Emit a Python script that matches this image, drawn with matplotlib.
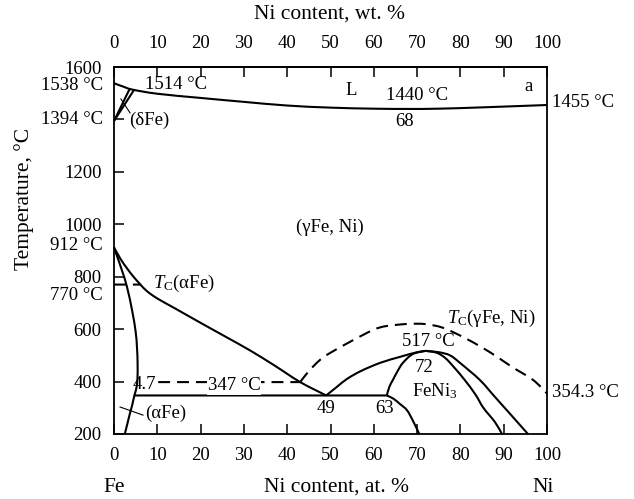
import matplotlib
matplotlib.use('Agg')
import numpy as np
import matplotlib.pyplot as plt
from matplotlib.path import Path
from matplotlib.patches import PathPatch

plt.rcParams['font.family'] = ['Liberation Serif', 'DejaVu Serif']
plt.rcParams['mathtext.fontset'] = 'custom'
plt.rcParams['mathtext.rm'] = 'Liberation Serif'
plt.rcParams['mathtext.it'] = 'Liberation Serif:italic'
plt.rcParams['lines.scale_dashes'] = False

# Fe-Ni phase diagram, x = Ni at. %, y = temperature in deg C
liquidus_x = [0, 2, 4.2, 10, 20, 30, 40, 50, 60, 68, 75, 85, 100]
liquidus_t = [1538, 1526, 1514, 1498, 1482, 1467, 1453, 1445, 1441, 1440, 1441, 1446, 1455]

delta_x = [0, 3.6]
delta_t = [1394, 1516]
delta_gamma_x = [0, 4.6]
delta_gamma_t = [1394, 1512]

alpha_x = [0, 1.8, 3, 4.2, 5, 5.3, 5.45, 5.4, 5.1, 4.7, 4.2, 3.7, 3.1, 2.5]
alpha_t = [912, 826, 761, 670, 590, 532, 470, 406, 370, 347, 310, 280, 240, 200]

gamma_x = [0, 1.5, 3, 4.5, 6, 7.6, 10, 14, 20, 26, 31.4, 37, 43, 49]
gamma_t = [912, 868, 832, 800, 772, 745, 717, 680, 624, 569, 519, 462, 398, 347]

eutectoid_x = [4.7, 63]
eutectoid_t = [347, 347]

feni3_left_x = [49, 51.5, 53.8, 57, 61.4, 66, 70, 72]
feni3_left_t = [347, 380, 410, 440, 471, 494, 512, 517]
feni3_inner_x = [63, 63.6, 64.4, 65.5, 66.7, 69, 72]
feni3_inner_t = [347, 380, 406, 440, 471, 505, 517]
feni3_low_x = [63, 64.5, 66, 67.7, 69.2, 70.5]
feni3_low_t = [347, 335, 315, 290, 245, 200]
feni3_right_x = [72, 74.5, 76.5, 78.5, 81, 83.5, 85.3, 88, 89.6]
feni3_right_t = [517, 510, 490, 455, 406, 350, 300, 245, 200]
gamma_right_x = [72, 75, 77.6, 80, 84.5, 88, 92, 95.6]
gamma_right_t = [517, 512, 500, 470, 406, 341, 267, 200]

# magnetic transitions
tc_alpha_x = [0, 6.2]
tc_alpha_t = [770, 770]
tc_two_phase_x = [10.2, 43]
tc_two_phase_t = [398, 398]
tc_gamma_x = [43, 45, 47.6, 50, 55, 60, 63, 68, 72, 76, 80.6, 85, 88.5, 92, 96.8, 100]
tc_gamma_t = [398, 440, 483, 510, 556, 598, 612, 620, 619, 605, 570, 530, 494, 455, 406, 354.3]

temp_ticks = [200, 400, 600, 800, 1000, 1200, 1400, 1600]
temp_labels = ['200', '400', '600', '800', '1000', '1200', '', '1600']
ni_ticks = [0, 10, 20, 30, 40, 50, 60, 70, 80, 90, 100]

fs = 13.5
fs_label = 15.5
lw = 1.5
dash = (0, (8.6, 5))


def smooth(xs, ts):
    # Catmull-Rom through the points, written as cubic Bezier segments
    p = np.column_stack([xs, ts]).astype(float)
    n = len(p)
    verts = [p[0]]
    codes = [Path.MOVETO]
    for i in range(n - 1):
        p0 = p[i - 1] if i > 0 else p[i]
        p3 = p[i + 2] if i + 2 < n else p[i + 1]
        c1 = p[i] + (p[i + 1] - p0) / 6
        c2 = p[i + 1] - (p3 - p[i]) / 6
        verts += [c1, c2, p[i + 1]]
        codes += [Path.CURVE4] * 3
    return Path(verts, codes)


def curve(ax, xs, ts, ls='-'):
    ax.add_patch(PathPatch(smooth(xs, ts), fill=False, ec='black', lw=lw,
                           ls=ls, capstyle='butt', clip_on=False))


fig = plt.figure(figsize=(6.34, 4.99), dpi=100)
ax = fig.add_axes([114 / 634, 1 - 434 / 499, 433 / 634, 367 / 499])

solid = [
    (liquidus_x, liquidus_t), (delta_x, delta_t), (delta_gamma_x, delta_gamma_t),
    (alpha_x, alpha_t), (gamma_x, gamma_t), (eutectoid_x, eutectoid_t),
    (feni3_left_x, feni3_left_t), (feni3_inner_x, feni3_inner_t),
    (feni3_low_x, feni3_low_t), (feni3_right_x, feni3_right_t),
    (gamma_right_x, gamma_right_t),
]
for xs, ts in solid:
    curve(ax, xs, ts)

for xs, ts in [(tc_alpha_x, tc_alpha_t), (tc_two_phase_x, tc_two_phase_t), (tc_gamma_x, tc_gamma_t)]:
    curve(ax, xs, ts, ls=dash)

# leader lines for the small solid solution fields
ax.plot([1.6, 3.7], [1478, 1425], color='black', lw=0.8)
ax.plot([1.4, 6.7], [303, 272], color='black', lw=0.8)

ax.set_xlim(0, 100)
ax.set_ylim(200, 1600)
ax.set_xticks(ni_ticks)
ax.set_yticks(temp_ticks, temp_labels)
ax.tick_params(direction='in', length=7, width=1.1, top=False, right=False,
               labelsize=fs, pad=9)
for s in ax.spines.values():
    s.set_linewidth(1.3)

top = ax.secondary_xaxis('top')
top.set_xticks(ni_ticks)
top.tick_params(direction='in', length=7, width=1.1, labelsize=fs, pad=11)
top.spines['top'].set_linewidth(1.3)

kw = dict(fontsize=fs, clip_on=False)
ax.text(-2.5, 1530, '1538 °C', ha='right', va='center', **kw)
ax.text(-2.5, 1398, '1394 °C', ha='right', va='center', **kw)
ax.text(-2.5, 919, '912 °C', ha='right', va='center', **kw)
ax.text(-2.5, 730, '770 °C', ha='right', va='center', **kw)
ax.text(7.2, 1533, '1514 °C', ha='left', va='center', **kw)
ax.text(3.5, 1398, '(δFe)', ha='left', va='center', **kw)
ax.text(54.7, 1512, 'L', ha='center', va='center', **kw)
ax.text(70.1, 1493, '1440 °C', ha='center', va='center', **kw)
ax.text(67, 1392, '68', ha='center', va='center', **kw)
ax.text(95.8, 1527, 'a', ha='center', va='center', **kw)
ax.text(101.2, 1463, '1455 °C', ha='left', va='center', **kw)
ax.text(49.9, 990, '(γFe, Ni)', ha='center', va='center', **kw)
ax.text(9.0, 776, r'$T_\mathrm{C}$(αFe)', ha='left', va='center', **kw)
ax.text(76.9, 639, r'$T_\mathrm{C}$(γFe, Ni)', ha='left', va='center', **kw)
ax.text(72.6, 551, '517 °C', ha='center', va='center', **kw)
ax.text(71.6, 455, '72', ha='center', va='center', **kw)
ax.text(68.8, 364, r'FeNi$_3$', ha='left', va='center', **kw)
ax.text(101.2, 360, '354.3 °C', ha='left', va='center', **kw)
ax.text(4.4, 387, '4.7', ha='left', va='center', **kw)
ax.text(21.7, 385, '347 °C', ha='left', va='center',
        bbox=dict(facecolor='white', edgecolor='none', pad=0.5), **kw)
ax.text(49.0, 299, '49', ha='center', va='center', **kw)
ax.text(62.5, 299, '63', ha='center', va='center', **kw)
ax.text(7.2, 280, '(αFe)', ha='left', va='center', **kw)

fig.text(330 / 634, 1 - 14 / 499, 'Ni content, wt. %', ha='center', va='center', fontsize=fs_label)
fig.text(114 / 634, 1 - 487 / 499, 'Fe', ha='center', va='center', fontsize=fs_label)
fig.text(337 / 634, 1 - 487 / 499, 'Ni content, at. %', ha='center', va='center', fontsize=fs_label)
fig.text(543 / 634, 1 - 487 / 499, 'Ni', ha='center', va='center', fontsize=fs_label)
fig.text(24 / 634, 1 - 199 / 499, 'Temperature, °C', ha='center', va='center',
         rotation=90, fontsize=fs_label)

fig.savefig('out.png', dpi=100)
